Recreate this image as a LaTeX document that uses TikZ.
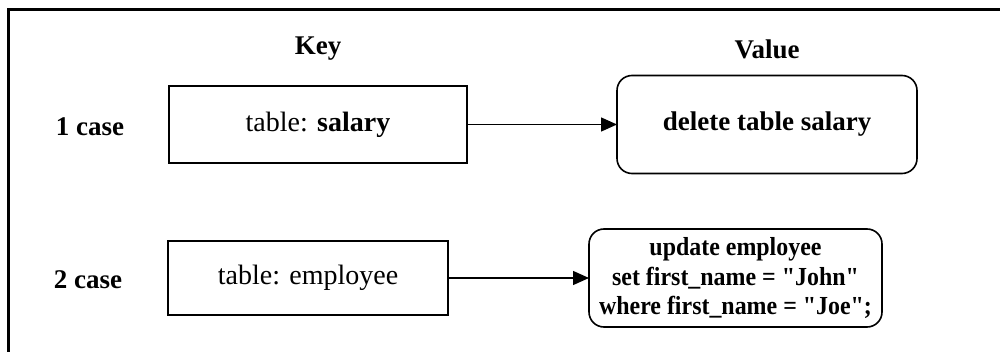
\documentclass[tikz,border=0pt]{standalone}
\usepackage{fontspec}
\setmainfont[Ligatures=TeXOff]{Liberation Serif}
\usetikzlibrary{arrows.meta}
\begin{document}
\begin{tikzpicture}[x=1pt,y=-1pt,
  every node/.style={font=\fontsize{28}{29.5}\selectfont, inner sep=0pt, outer sep=0pt},
  label text/.style={font=\fontsize{27}{29.5}\selectfont\bfseries},
  keybox/.style={draw, line width=1.6pt, rectangle},
  valbox/.style={draw, line width=1.6pt, rectangle, rounded corners=15pt, align=center,
                 font=\fontsize{27}{29.5}\selectfont\bfseries},
  query/.style={font=\fontsize{26}{29.5}\selectfont\bfseries\addfontfeature{FakeStretch=0.92}},
  flow/.style={line width=1.4pt, -{Triangle[length=16pt,width=14pt]}}
]
  \useasboundingbox (0,0) rectangle (1000,352);
  % frame edges
  \draw[line width=3pt] (8,352) -- (8,9.5) -- (1000,9.5);

  % column headings
  \node[label text] (keyhead) at (318,49) {Key};
  \node[label text] (valhead) at (767,49) {Value};

  % row labels
  \node[label text] (case1) at (90,127) {1 case};
  \node[label text] (case2) at (88,280) {2 case};

  % keys
  \node[keybox, minimum width=298pt, minimum height=77pt] (k1) at (318,124.5) {table: \textbf{salary}};
  \node[keybox, minimum width=280pt, minimum height=74pt] (k2) at (308,278) {table: employee};

  % values
  \node[valbox, minimum width=300pt, minimum height=98pt] (v1) at (767,124.5) {delete table salary};
  \node[valbox, query, minimum width=293pt, minimum height=98pt] (v2) at (735.5,278)
    {update employee\\set first\_name = "John"\\where first\_name = "Joe";};

  % mappings
  \draw[flow] (k1) -- (v1);
  \draw[flow] (k2) -- (v2);
\end{tikzpicture}
\end{document}
